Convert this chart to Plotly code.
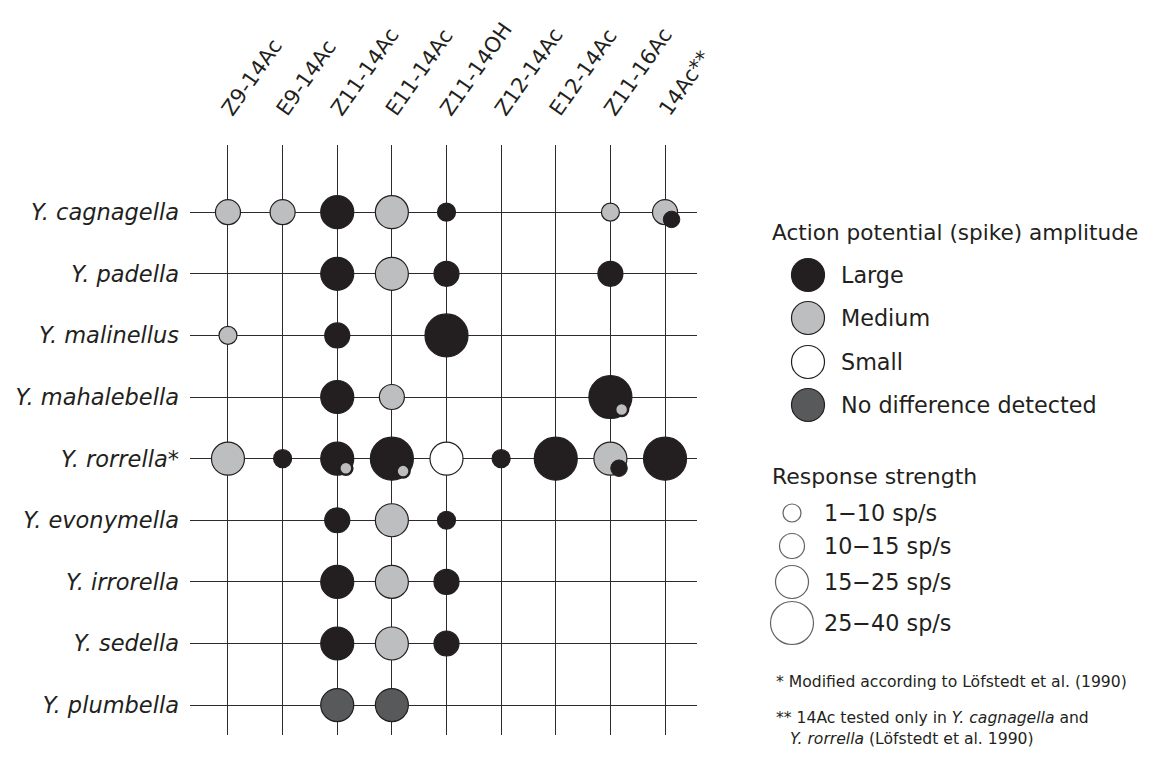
import math
import plotly.graph_objects as go

W, H = 1155, 763
OFF = 8  # page body margin of the html page

# ---------------- data ----------------
species = ["Y. cagnagella", "Y. padella", "Y. malinellus", "Y. mahalebella",
           "Y. rorrella*", "Y. evonymella", "Y. irrorella", "Y. sedella", "Y. plumbella"]
compounds = ["Z9-14Ac", "E9-14Ac", "Z11-14Ac", "E11-14Ac", "Z11-14OH",
             "Z12-14Ac", "E12-14Ac", "Z11-16Ac", "14Ac**"]

amplitude_classes = ["Large", "Medium", "Small", "No difference detected"]
strength_classes = ["1−10 sp/s", "10−15 sp/s", "15−25 sp/s", "25−40 sp/s"]

# primary responses
resp_species = (["Y. cagnagella"] * 7 + ["Y. padella"] * 4 + ["Y. malinellus"] * 3 +
                ["Y. mahalebella"] * 3 + ["Y. rorrella*"] * 9 + ["Y. evonymella"] * 3 +
                ["Y. irrorella"] * 3 + ["Y. sedella"] * 3 + ["Y. plumbella"] * 2)
resp_compound = [
    "Z9-14Ac", "E9-14Ac", "Z11-14Ac", "E11-14Ac", "Z11-14OH", "Z11-16Ac", "14Ac**",
    "Z11-14Ac", "E11-14Ac", "Z11-14OH", "Z11-16Ac",
    "Z9-14Ac", "Z11-14Ac", "Z11-14OH",
    "Z11-14Ac", "E11-14Ac", "Z11-16Ac",
    "Z9-14Ac", "E9-14Ac", "Z11-14Ac", "E11-14Ac", "Z11-14OH", "Z12-14Ac", "E12-14Ac", "Z11-16Ac", "14Ac**",
    "Z11-14Ac", "E11-14Ac", "Z11-14OH",
    "Z11-14Ac", "E11-14Ac", "Z11-14OH",
    "Z11-14Ac", "E11-14Ac", "Z11-14OH",
    "Z11-14Ac", "E11-14Ac",
]
resp_amplitude = [
    "Medium", "Medium", "Large", "Medium", "Large", "Medium", "Medium",
    "Large", "Medium", "Large", "Large",
    "Medium", "Large", "Large",
    "Large", "Medium", "Large",
    "Medium", "Large", "Large", "Large", "Small", "Large", "Large", "Medium", "Large",
    "Large", "Medium", "Large",
    "Large", "Medium", "Large",
    "Large", "Medium", "Large",
    "No difference detected", "No difference detected",
]
resp_strength = [
    "10−15 sp/s", "10−15 sp/s", "15−25 sp/s", "15−25 sp/s", "1−10 sp/s", "1−10 sp/s", "10−15 sp/s",
    "15−25 sp/s", "15−25 sp/s", "10−15 sp/s", "10−15 sp/s",
    "1−10 sp/s", "10−15 sp/s", "25−40 sp/s",
    "15−25 sp/s", "10−15 sp/s", "25−40 sp/s",
    "15−25 sp/s", "1−10 sp/s", "15−25 sp/s", "25−40 sp/s", "15−25 sp/s", "1−10 sp/s", "25−40 sp/s", "15−25 sp/s", "25−40 sp/s",
    "10−15 sp/s", "15−25 sp/s", "1−10 sp/s",
    "15−25 sp/s", "15−25 sp/s", "10−15 sp/s",
    "15−25 sp/s", "15−25 sp/s", "10−15 sp/s",
    "15−25 sp/s", "15−25 sp/s",
]

# secondary (overlaid) cell responses
sec_species = ["Y. cagnagella", "Y. mahalebella", "Y. rorrella*", "Y. rorrella*", "Y. rorrella*"]
sec_compound = ["14Ac**", "Z11-16Ac", "Z11-14Ac", "E11-14Ac", "Z11-16Ac"]
sec_amplitude = ["Large", "Medium", "Medium", "Medium", "Large"]

legend_title_amp = "Action potential (spike) amplitude"
legend_title_str = "Response strength"
footnotes = [
    "* Modified according to Löfstedt et al. (1990)",
    "** 14Ac tested only in <i>Y. cagnagella</i> and",
    "<i>Y. rorrella</i> (Löfstedt et al. 1990)",
]

# ---------------- styles ----------------
INK = "#231f20"
GRID = "#2e2b2c"
FONT = "DejaVu Sans"
fill = {"Large": "#231f20", "Medium": "#bcbec0", "Small": "#ffffff",
        "No difference detected": "#58595b"}
diam = {"1−10 sp/s": 18, "10−15 sp/s": 25, "15−25 sp/s": 33, "25−40 sp/s": 43}

# plot frame in (screen) pixels
PX0, PX1, PY0, PY1 = 190 - OFF, 697 - OFF, 145 - OFF, 735 - OFF
XR = [-0.695, 8.585]
YR = [8.485, -1.09]
px_x = (PX1 - PX0) / (XR[1] - XR[0])
px_y = (PY1 - PY0) / (YR[0] - YR[1])

xi = {c: i for i, c in enumerate(compounds)}
yi = {s: i for i, s in enumerate(species)}

fig = go.Figure()

# primary bubbles
fig.add_trace(go.Scatter(
    x=[xi[c] for c in resp_compound], y=[yi[s] for s in resp_species],
    mode="markers", hoverinfo="skip", showlegend=False,
    marker=dict(size=[diam[s] for s in resp_strength],
                color=[fill[a] for a in resp_amplitude],
                line=dict(color=INK, width=1.2), opacity=1),
    cliponaxis=False,
))

# secondary overlays, placed lower-right inside the main bubble
lookup = {(s, c): st for s, c, st in zip(resp_species, resp_compound, resp_strength)}
ang = math.radians(48)
for amp in ["Medium", "Large"]:
    xs, ys = [], []
    for s, c, a in zip(sec_species, sec_compound, sec_amplitude):
        if a != amp:
            continue
        r = diam[lookup[(s, c)]] / 2
        d = 0.78 * r
        xs.append(xi[c] + d * math.cos(ang) / px_x)
        ys.append(yi[s] + d * math.sin(ang) / px_y)
    if amp == "Medium":
        mk = dict(size=13, color=fill["Medium"], line=dict(color=INK, width=2.5))
    else:
        mk = dict(size=16.5, color=fill["Large"], line=dict(color=INK, width=1))
    fig.add_trace(go.Scatter(x=xs, y=ys, mode="markers", marker=mk,
                             hoverinfo="skip", showlegend=False, cliponaxis=False))

# legend markers on a pixel-coordinate overlay axis
amp_y = [275, 318, 362, 405]
fig.add_trace(go.Scatter(
    x=[808 - OFF] * 4, y=[v - OFF for v in amp_y], xaxis="x2", yaxis="y2", mode="markers",
    marker=dict(size=33, color=[fill[a] for a in amplitude_classes],
                line=dict(color=INK, width=1.2)),
    hoverinfo="skip", showlegend=False, cliponaxis=False))
str_y = [513, 546, 582, 623]
fig.add_trace(go.Scatter(
    x=[792 - OFF] * 4, y=[v - OFF for v in str_y], xaxis="x2", yaxis="y2", mode="markers",
    marker=dict(size=[diam[s] for s in strength_classes], color="white",
                line=dict(color=INK, width=1.2)),
    hoverinfo="skip", showlegend=False, cliponaxis=False))

ann = []
def txt(x, y, t, size):
    ann.append(dict(x=x - OFF, y=y - OFF, xref="x2", yref="y2", text=t, showarrow=False,
                    xanchor="left", yanchor="middle",
                    font=dict(family=FONT, size=size, color=INK)))

txt(770, 232, legend_title_amp, 21.6)
for a, y in zip(amplitude_classes, amp_y):
    txt(839, y, a, 22.3)
txt(770, 476, legend_title_str, 22.0)
for s, y in zip(strength_classes, str_y):
    txt(822, y, s, 22.3)
txt(774, 682, footnotes[0], 15.6)
txt(774, 718, footnotes[1], 15.6)
txt(788, 739, footnotes[2], 15.6)

fig.update_layout(
    width=W, height=H,
    margin=dict(l=0, r=0, t=0, b=0),
    paper_bgcolor="white", plot_bgcolor="rgba(0,0,0,0)",
    annotations=ann,
    xaxis=dict(domain=[PX0 / W, PX1 / W], range=XR, side="top",
               tickvals=list(range(len(compounds))), ticktext=compounds,
               tickangle=-55, ticklabelstandoff=18, ticklabelshift=-4,
               tickfont=dict(family=FONT, size=21, color=INK),
               showgrid=True, gridcolor=GRID, gridwidth=1.3,
               zeroline=False, showline=False, ticks="", automargin=False),
    yaxis=dict(domain=[1 - PY1 / H, 1 - PY0 / H], range=YR,
               tickvals=list(range(len(species))), ticktext=species,
               ticklabelstandoff=10,
               tickfont=dict(family=FONT, size=22.5, color=INK, style="italic"),
               showgrid=True, gridcolor=GRID, gridwidth=1.3,
               zeroline=False, showline=False, ticks="", automargin=False),
    xaxis2=dict(domain=[0, 1], range=[0, W], anchor="y2", visible=False),
    yaxis2=dict(domain=[0, 1], range=[H, 0], anchor="x2", visible=False),
    showlegend=False,
)

fig.write_html("out.html")
